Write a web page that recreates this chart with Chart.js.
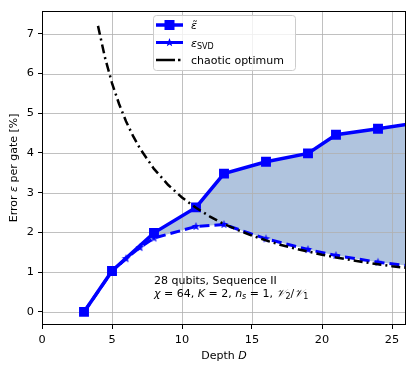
<!DOCTYPE html>
<html><head><meta charset="utf-8">
<script src="https://cdn.jsdelivr.net/npm/chart.js@4/dist/chart.umd.min.js"></script>
<style>html,body{margin:0;padding:0;background:#fff}</style>
</head><body>
<canvas id="c" width="415" height="372"></canvas>
<script>
const xTicks=[0,5,10,15,20,25];
const yTicks=[0,1,2,3,4,5,6,7];
const depthTilde=[3,5,8,11,13,16,19,21,24,27];
const epsTilde=[0,1.03,1.99,2.63,3.48,3.78,3.99,4.46,4.61,4.77];
const depthSVD=[3,5,6,7,8,11,13,16,19,21,24,27];
const epsSVD=[0,1.02,1.34,1.62,1.86,2.15,2.2,1.84,1.57,1.42,1.25,1.13];
const depthChaotic=[4,4.5,5,5.5,6,6.5,7,8,9,10,11,12,13,14,15,16,17,18,19,20,21,22,23,24,25,26];
const epsChaotic=[7.2,6.4,5.76,5.24,4.8,4.43,4.11,3.6,3.2,2.88,2.62,2.4,2.21,2.06,1.92,1.8,1.69,1.6,1.52,1.44,1.37,1.31,1.25,1.2,1.15,1.11];

const zip=(xs,ys)=>xs.map((x,i)=>({x:x,y:ys[i]}));
const BLUE='#0000ff';
const FILL='#b0c4de';
const F='11px "DejaVu Sans"', FI='oblique 11px "DejaVu Sans"', FS='8px "DejaVu Sans"', FIS='oblique 8px "DejaVu Sans"';

function starCanvas(r,color){
  const s=Math.ceil(2*r+2);const c=document.createElement('canvas');c.width=s;c.height=s;
  const g=c.getContext('2d');g.fillStyle=color;g.beginPath();
  for(let i=0;i<10;i++){const a=-Math.PI/2+i*Math.PI/5;const rr=i%2?r*0.42:r;g.lineTo(s/2+rr*Math.cos(a),s/2+rr*Math.sin(a));}
  g.closePath();g.fill();return c;
}
const starImg=starCanvas(4.5,BLUE);

function drawRuns(ctx,runs,x,y,align){
  let w=0;runs.forEach(r=>{ctx.font=r[1];w+=ctx.measureText(r[0]).width;});
  let cx=align==='center'?x-w/2:x;
  ctx.textBaseline='alphabetic';ctx.textAlign='left';
  runs.forEach(r=>{ctx.font=r[1];ctx.fillText(r[0],cx,y+(r[2]||0));cx+=ctx.measureText(r[0]).width;});
}

const overlay={
  id:'overlay',
  beforeDatasetsDraw(chart){
    const ctx=chart.ctx,a=chart.chartArea,xs=chart.scales.x,ys=chart.scales.y;
    ctx.save();ctx.strokeStyle='#b0b0b0';ctx.lineWidth=0.8;
    ctx.beginPath();ctx.rect(a.left,a.top,a.right-a.left,a.bottom-a.top);ctx.clip();
    xTicks.forEach(v=>{const p=Math.round(xs.getPixelForValue(v))+0.5;ctx.beginPath();ctx.moveTo(p,a.top);ctx.lineTo(p,a.bottom);ctx.stroke();});
    yTicks.forEach(v=>{const p=Math.round(ys.getPixelForValue(v))+0.5;ctx.beginPath();ctx.moveTo(a.left,p);ctx.lineTo(a.right,p);ctx.stroke();});
    ctx.restore();
  },
  afterDraw(chart){
    const ctx=chart.ctx,a=chart.chartArea,xs=chart.scales.x,ys=chart.scales.y;
    ctx.save();
    ctx.strokeStyle='#000';ctx.lineWidth=1;
    ctx.strokeRect(Math.round(a.left)+0.5,Math.round(a.top)+0.5,Math.round(a.right-a.left)-1,Math.round(a.bottom-a.top)-1);
    ctx.fillStyle='#000';
    // axis titles
    drawRuns(ctx,[['Depth ',F],['D',FI]],(a.left+a.right)/2,358.5,'center');
    ctx.save();ctx.translate(16.5,(a.top+a.bottom)/2);ctx.rotate(-Math.PI/2);
    drawRuns(ctx,[['Error ',F],['ε',FI],[' per gate [%]',F]],0,0,'center');
    ctx.restore();
    // annotation
    const tx=xs.getPixelForValue(8);
    drawRuns(ctx,[['28 qubits, Sequence II',F]],tx,283.5,'left');
    drawRuns(ctx,[['χ',FI],[' = 64, ',F],['K',FI],[' = 2, ',F],['n',FI],['s',FIS,2],[' = 1, ',F],['𝒱',FI],['2',FS,2],['/',F],['𝒱',FI],['1',FS,2]],tx,297,'left');
    // legend
    ctx.beginPath();ctx.roundRect(153.5,15.5,142,55,3);
    ctx.fillStyle='rgba(255,255,255,0.8)';ctx.fill();ctx.strokeStyle='#cccccc';ctx.lineWidth=1;ctx.stroke();
    const rows=[25,42.5,60];
    ctx.strokeStyle=BLUE;ctx.lineWidth=3.5;
    ctx.beginPath();ctx.moveTo(156,rows[0]);ctx.lineTo(183,rows[0]);ctx.stroke();
    ctx.fillStyle=BLUE;ctx.fillRect(169.5-5,rows[0]-5,10,10);
    ctx.lineWidth=3;ctx.beginPath();ctx.moveTo(156,rows[1]);ctx.lineTo(183,rows[1]);ctx.stroke();
    ctx.drawImage(starImg,169.5-starImg.width/2,rows[1]-starImg.height/2);
    ctx.strokeStyle='#000';ctx.lineWidth=2.5;
    ctx.beginPath();ctx.moveTo(156,rows[2]);ctx.lineTo(175,rows[2]);ctx.stroke();
    ctx.beginPath();ctx.moveTo(178,rows[2]);ctx.lineTo(180.5,rows[2]);ctx.stroke();
    ctx.fillStyle='#000';
    drawRuns(ctx,[['ε̃',FI]],191,rows[0]+4,'left');
    drawRuns(ctx,[['ε',FI],['SVD',FS,2.5]],191,rows[1]+4,'left');
    drawRuns(ctx,[['chaotic optimum',F]],191,rows[2]+4,'left');
    ctx.restore();
  }
};

new Chart(document.getElementById('c'),{
  type:'scatter',
  data:{datasets:[
    {label:'tilde',data:zip(depthTilde,epsTilde),showLine:true,borderColor:BLUE,backgroundColor:BLUE,borderWidth:3.5,
     pointStyle:'rect',pointRadius:7,pointBorderWidth:0,pointBackgroundColor:BLUE,order:1,clip:0,fill:false,tension:0},
    {label:'svd',data:zip(depthSVD,epsSVD),showLine:true,borderColor:BLUE,backgroundColor:FILL,borderWidth:3,borderDash:[10,5],
     pointStyle:starImg,pointRadius:5,order:2,clip:0,fill:{target:0,above:FILL,below:FILL},tension:0},
    {label:'chaotic',data:zip(depthChaotic,epsChaotic),showLine:true,borderColor:'#000',borderWidth:2.5,borderDash:[9,4,2,4],
     pointRadius:0,order:0,clip:0,fill:false,tension:0}
  ]},
  options:{
    responsive:false,animation:false,devicePixelRatio:1,
    layout:{padding:{top:8,right:9,left:0,bottom:0}},
    plugins:{legend:{display:false},tooltip:{enabled:false},filler:{drawTime:'beforeDatasetsDraw'}},
    scales:{
      x:{type:'linear',min:0,max:26,
        afterBuildTicks:s=>{s.ticks=xTicks.map(v=>({value:v}));},
        afterFit:s=>{s.height=47;},
        grid:{display:true,drawOnChartArea:false,tickColor:'#000',tickLength:4,tickWidth:1},
        border:{display:false},
        ticks:{color:'#000',font:{family:'DejaVu Sans',size:11.3},padding:4,maxRotation:0,autoSkip:false}},
      y:{type:'linear',min:-0.33,max:7.58,
        afterBuildTicks:s=>{s.ticks=yTicks.map(v=>({value:v}));},
        afterFit:s=>{s.width=42;},
        grid:{display:true,drawOnChartArea:false,tickColor:'#000',tickLength:4,tickWidth:1},
        border:{display:false},
        ticks:{color:'#000',font:{family:'DejaVu Sans',size:11.3},padding:4,autoSkip:false}}
    }
  },
  plugins:[overlay]
});
</script>
</body></html>
